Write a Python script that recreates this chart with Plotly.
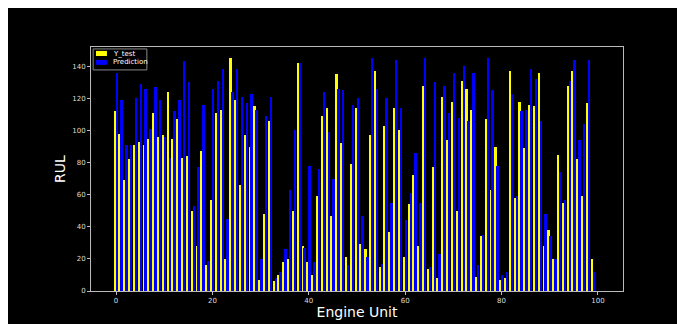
import plotly.graph_objects as go

units = list(range(100))
y_test = [112, 98, 69, 82, 91, 93, 91, 95, 111, 96,
          97, 124, 95, 107, 83, 84, 50, 28, 87, 16,
          57, 111, 113, 20, 145, 119, 66, 97, 90, 115,
          7, 48, 106, 6, 10, 18, 20, 50, 142, 28,
          18, 10, 59, 109, 114, 47, 135, 92, 21, 79,
          114, 29, 26, 97, 137, 15, 103, 37, 114, 100,
          21, 54, 72, 28, 128, 14, 77, 8, 121, 94,
          118, 50, 131, 126, 113, 9, 34, 107, 63, 90,
          7, 8, 137, 58, 118, 89, 116, 115, 136, 28,
          38, 20, 85, 55, 128, 137, 82, 59, 117, 20]
prediction = [136, 119, 91, 91, 120, 129, 126, 101, 127, 119,
              96, 83, 112, 119, 143, 130, 53, 77, 116, 19,
              126, 131, 138, 45, 124, 138, 121, 117, 123, 113,
              20, 109, 121, 8, 12, 26, 63, 100, 142, 27,
              78, 18, 76, 124, 99, 70, 126, 125, 16, 116,
              120, 47, 21, 145, 126, 17, 120, 55, 144, 114,
              44, 61, 86, 55, 145, 15, 130, 23, 128, 111,
              136, 108, 140, 106, 136, 16, 35, 145, 125, 78,
              10, 12, 123, 59, 112, 113, 138, 132, 106, 48,
              34, 20, 74, 57, 131, 144, 94, 104, 144, 12]

series_names = ["Y_test", "Prediction"]
series_colors = ["#ffff00", "#0000ff"]
x_ticks = [0, 20, 40, 60, 80, 100]
y_ticks = [0, 20, 40, 60, 80, 100, 120, 140]

fig = go.Figure()
fig.add_trace(go.Bar(x=units, y=y_test, name=series_names[0], marker_color=series_colors[0],
                     marker_line_width=0, width=0.4, offset=-0.4))
fig.add_trace(go.Bar(x=units, y=prediction, name=series_names[1], marker_color=series_colors[1],
                     marker_line_width=0, width=0.4, offset=0.0))

# matplotlib-style compact legend drawn in paper coordinates
shapes = [dict(type="rect", xref="paper", yref="paper", x0=0.004, x1=0.105, y0=0.906, y1=0.992,
               line=dict(color="#888888", width=1), fillcolor="black", layer="above")]
patch_y = [(0.963, 0.984), (0.927, 0.947)]
text_y = [0.973, 0.937]
annotations = []
for name, col, (py0, py1), ty in zip(series_names, series_colors, patch_y, text_y):
    shapes.append(dict(type="rect", xref="paper", yref="paper", x0=0.0094, x1=0.030,
                       y0=py0, y1=py1, line=dict(width=0), fillcolor=col, layer="above"))
    annotations.append(dict(xref="paper", yref="paper", x=0.037, y=ty, text=name,
                            showarrow=False, xanchor="left", yanchor="middle",
                            font=dict(size=7, color="white", family="DejaVu Sans")))

axis_common = dict(showgrid=False, zeroline=False, showline=True, mirror=True,
                   automargin=False,
                   linecolor="#bbbbbb", linewidth=1, ticks="outside", ticklen=3,
                   tickcolor="#bbbbbb", tickfont=dict(size=7, color="#dddddd",
                                                      family="DejaVu Sans"))
fig.update_layout(
    width=685, height=324,
    margin=dict(l=83, r=70, t=39, b=41),
    paper_bgcolor="black", plot_bgcolor="black",
    barmode="overlay", bargap=0,
    showlegend=False,
    shapes=shapes, annotations=annotations,
    xaxis=dict(range=[-5.2, 105.2], tickvals=x_ticks,
               title=dict(text="Engine Unit", standoff=2,
                          font=dict(size=14, color="white", family="DejaVu Sans")),
               **axis_common),
    yaxis=dict(range=[0, 152], tickvals=y_ticks,
               title=dict(text="RUL", standoff=3,
                          font=dict(size=14, color="white", family="DejaVu Sans")),
               **axis_common),
)

fig.write_html("out.html")
